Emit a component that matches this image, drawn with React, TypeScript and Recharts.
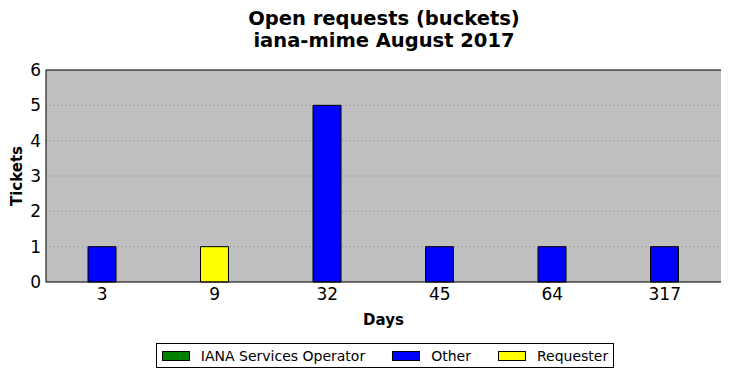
import { BarChart, Bar, XAxis, YAxis, CartesianGrid, Legend, ReferenceLine } from "recharts";

const days = ["3", "9", "32", "45", "64", "317"];
const ianaOperator = [0, 0, 0, 0, 0, 0];
const other = [1, 0, 5, 1, 1, 1];
const requester = [0, 1, 0, 0, 0, 0];
const yTicks = [0, 1, 2, 3, 4, 5, 6];

const SERIES = [
  { key: "iana", name: "IANA Services Operator", color: "#008000" },
  { key: "other", name: "Other", color: "#0000ff" },
  { key: "requester", name: "Requester", color: "#ffff00" },
];

const data = days.map((d, i) => ({
  day: d,
  iana: ianaOperator[i],
  other: other[i],
  requester: requester[i],
}));

const FONT = "'DejaVu Sans', sans-serif";

// boxed legend like matplotlib's, centred under the plot area
const BoxLegend = () => (
  <div
    style={{
      display: "flex",
      justifyContent: "center",
      alignItems: "flex-end",
      height: "100%",
      paddingLeft: 49,
    }}
  >
    <div
      style={{
        display: "flex",
        alignItems: "center",
        border: "1px solid #000",
        height: 23,
        padding: "0 5px 0 5px",
        fontFamily: FONT,
        fontSize: 14,
        background: "#fff",
      }}
    >
      {SERIES.map((s, i) => (
        <div key={s.key} style={{ display: "flex", alignItems: "center", marginLeft: i === 0 ? 0 : 27 }}>
          <span
            style={{
              width: 26,
              height: 8,
              background: s.color,
              border: "1px solid #000",
              marginRight: 11,
            }}
          />
          <span>{s.name}</span>
        </div>
      ))}
    </div>
  </div>
);

const App = () => {
  return (
    <div style={{ position: "absolute", left: 0, top: 0, width: 731, height: 378, background: "#fff" }}>
      <div
        style={{
          position: "absolute",
          top: 8,
          left: 0,
          width: 768,
          textAlign: "center",
          fontFamily: FONT,
          fontWeight: "bold",
          fontSize: 19.5,
          lineHeight: "22px",
        }}
      >
        Open requests (buckets)
        <br />
        iana-mime August 2017
      </div>
      <BarChart
        width={731}
        height={378}
        data={data}
        margin={{ top: 70, right: 10, left: 0, bottom: 10 }}
        barSize={28}
        style={{ fontFamily: FONT }}
      >
        <CartesianGrid
          vertical={false}
          fill="#bfbfbf"
          fillOpacity={1}
          stroke="#8a8a8a"
          strokeDasharray="1 3"
        />
        <XAxis
          dataKey="day"
          height={45}
          tickLine={false}
          tickSize={0}
          tickMargin={6}
          axisLine={{ stroke: "#000" }}
          tick={{ fill: "#000", fontSize: 17 }}
          label={{ value: "Days", position: "insideBottom", offset: 2, fill: "#000", fontSize: 15, fontWeight: "bold" }}
        />
        <XAxis
          xAxisId="top"
          dataKey="day"
          orientation="top"
          height={0}
          mirror
          tickSize={5}
          tick={{ fill: "none", fontSize: 1 }}
          tickLine={{ stroke: "#000" }}
          axisLine={{ stroke: "#000" }}
        />
        <YAxis
          width={46}
          domain={[0, 6]}
          ticks={yTicks}
          interval={0}
          tickLine={false}
          tickSize={0}
          tickMargin={5}
          axisLine={{ stroke: "#000" }}
          tick={{ fill: "#000", fontSize: 17 }}
          label={{ value: "Tickets", angle: -90, position: "insideLeft", offset: 17, fill: "#000", fontSize: 15, fontWeight: "bold", style: { textAnchor: "middle" } }}
        />
        <YAxis
          yAxisId="right"
          orientation="right"
          width={0}
          mirror
          domain={[0, 6]}
          ticks={yTicks}
          interval={0}
          tickSize={5}
          tick={{ fill: "none", fontSize: 1 }}
          tickLine={{ stroke: "#000" }}
          axisLine={{ stroke: "#000" }}
        />
        <Legend verticalAlign="bottom" height={41} content={<BoxLegend />} />
        {SERIES.map((s) => (
          <Bar
            key={s.key}
            dataKey={s.key}
            name={s.name}
            stackId="a"
            fill={s.color}
            stroke="#000"
            strokeWidth={1}
            isAnimationActive={false}
          />
        ))}
        <ReferenceLine y={6} stroke="#000" strokeWidth={1} />
      </BarChart>
    </div>
  );
};

export default App;
